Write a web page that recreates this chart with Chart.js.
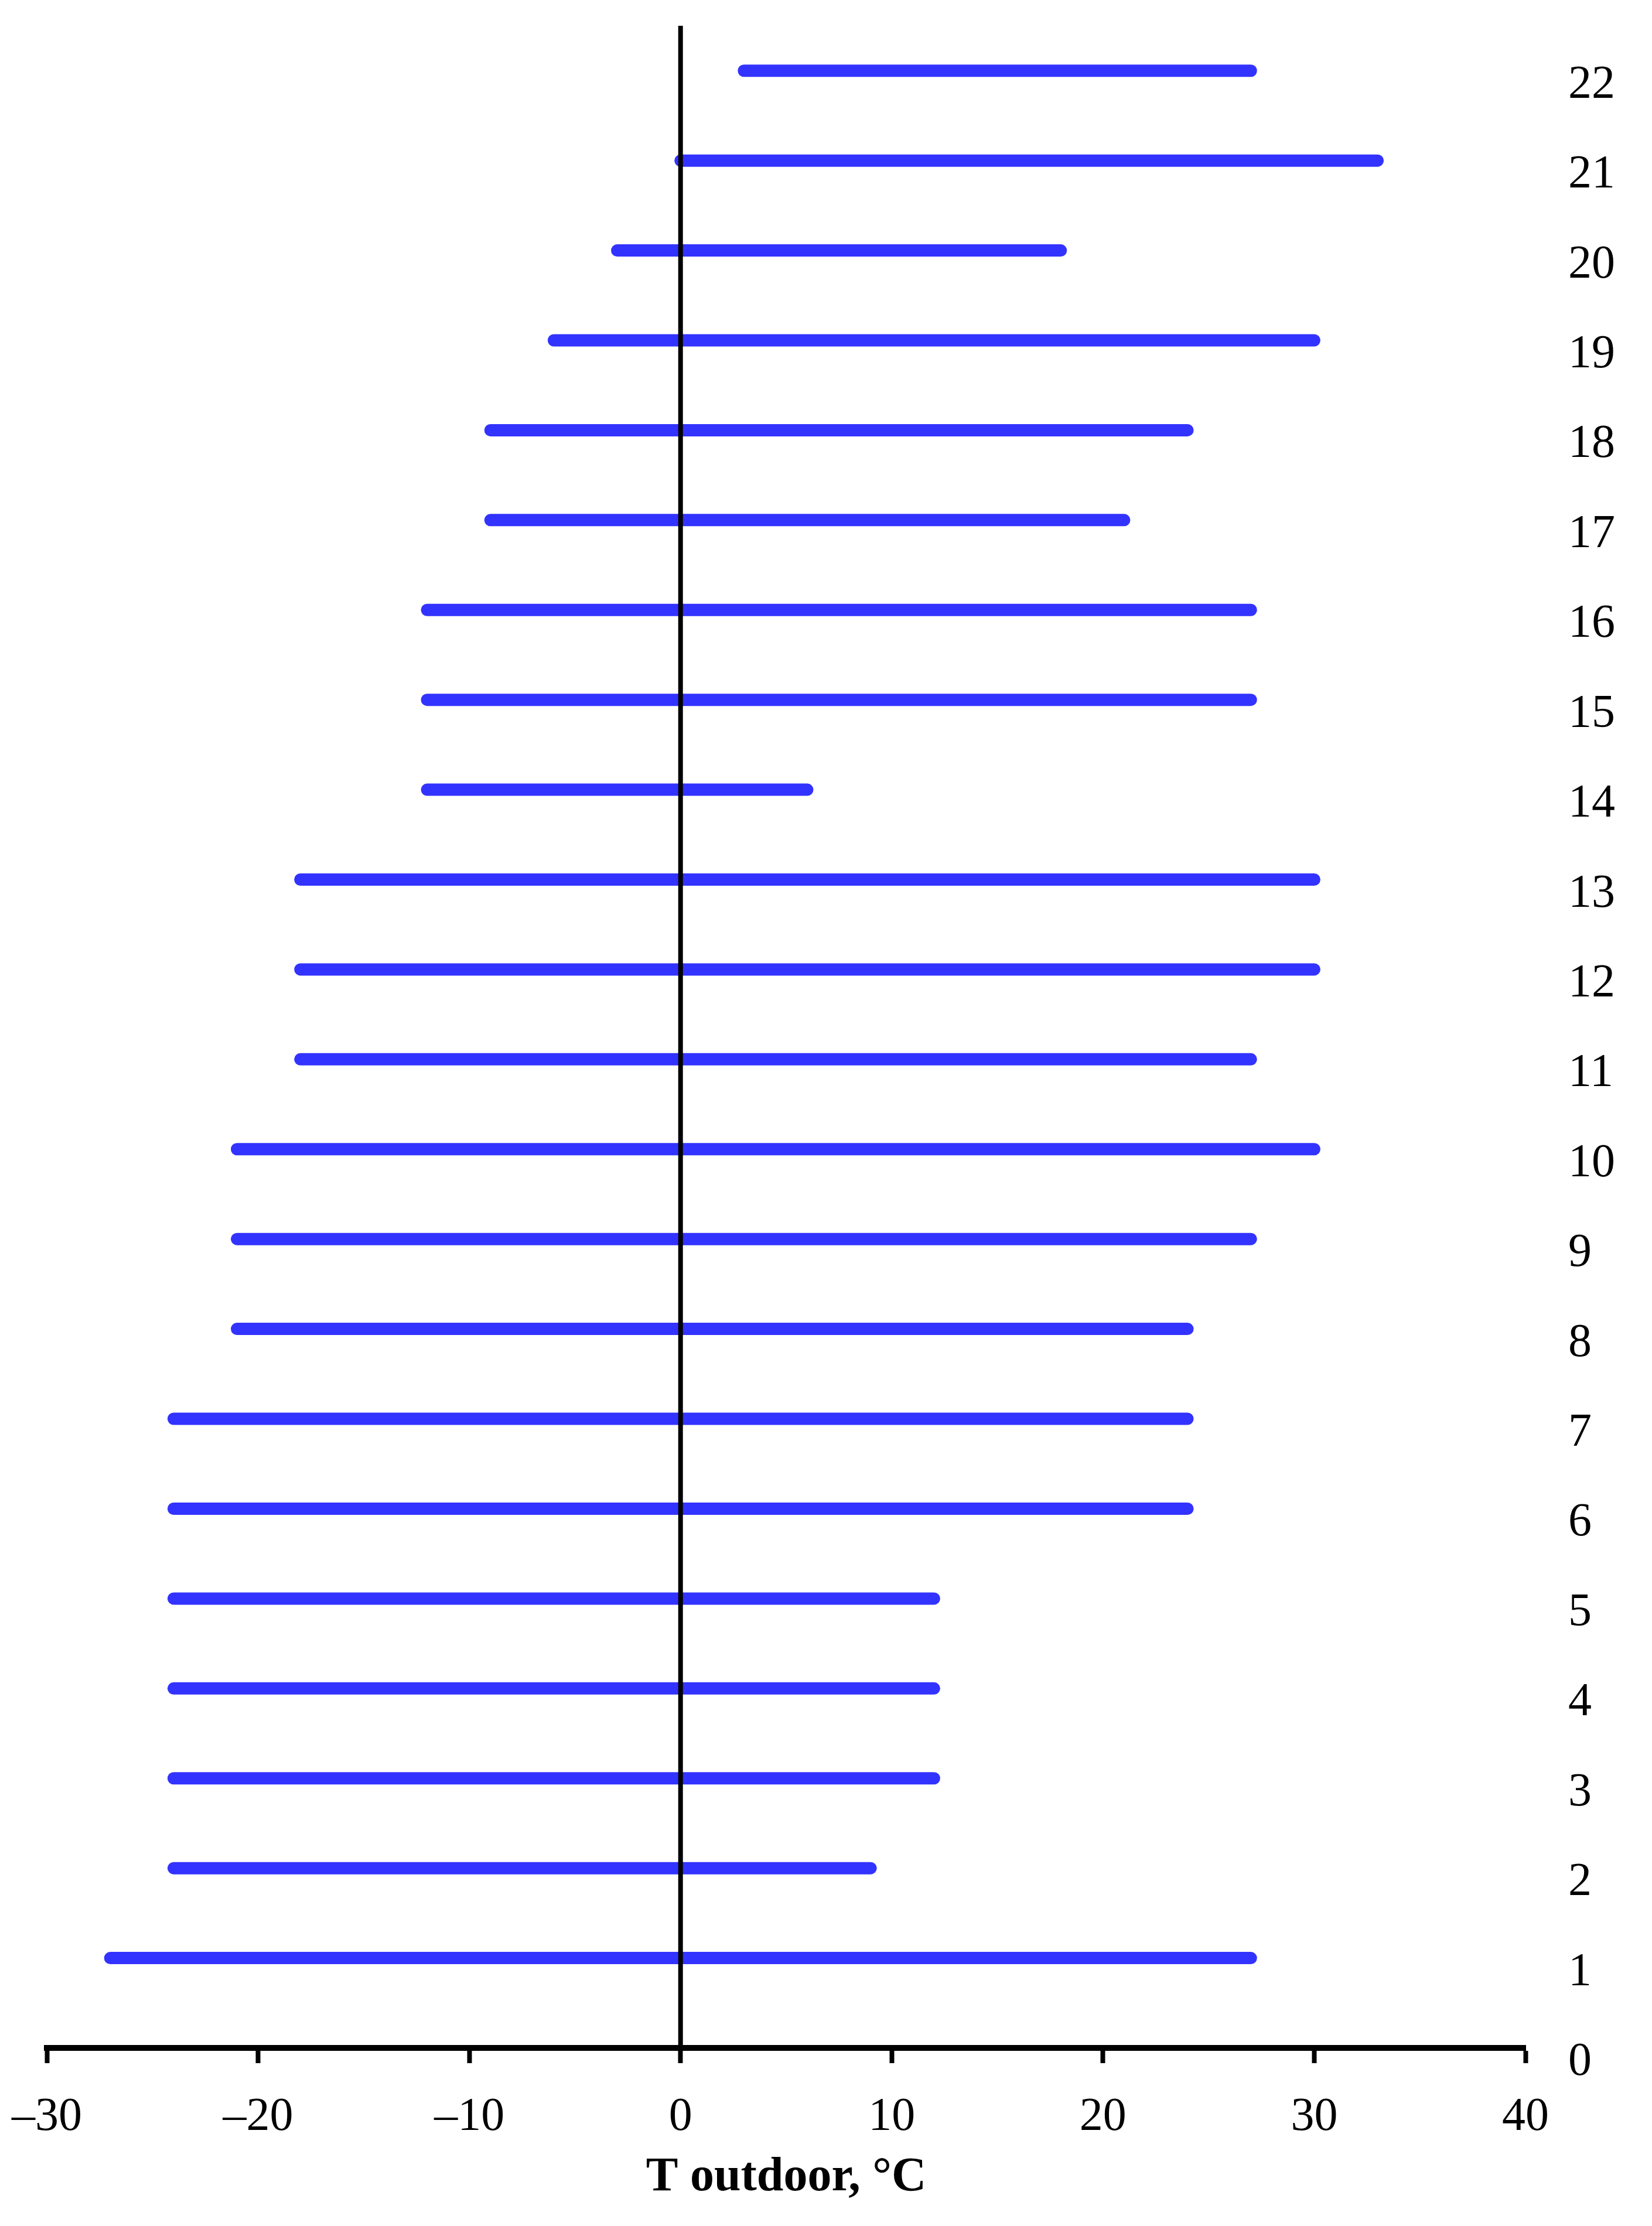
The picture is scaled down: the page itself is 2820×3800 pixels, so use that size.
<!DOCTYPE html>
<html>
<head>
<meta charset="utf-8">
<script src="https://cdn.jsdelivr.net/npm/chart.js@4.4.1/dist/chart.umd.min.js"></script>
<style>
  html, body { margin: 0; padding: 0; background: #fff; }
  #wrap { width: 2820px; height: 3800px; }
</style>
</head>
<body>
<div id="wrap"><canvas id="rangeChart" width="2820" height="3800"></canvas></div>
<script>
// categories 1..22 and the outdoor temperature range of each
const categories = [1, 2, 3, 4, 5, 6, 7, 8, 9, 10, 11, 12, 13, 14, 15, 16, 17, 18, 19, 20, 21, 22];
const lowTemps = [-27, -24, -24, -24, -24, -24, -24, -21, -21, -21, -18, -18, -18, -12, -12, -12, -9, -9, -6, -3, 0, 3];
const highTemps = [27, 9, 12, 12, 12, 24, 24, 24, 27, 30, 27, 30, 30, 6, 27, 27, 21, 24, 30, 18, 33, 27];
const xTicks = [-30, -20, -10, 0, 10, 20, 30, 40];

const barColor = '#3333ff';
const serif = "'Liberation Serif', 'Times New Roman', serif";

// zero line (drawn on top, so it comes first)
const datasets = [
  {
    data: [{ x: 0, y: 0 }, { x: 0, y: 22.5 }],
    borderColor: '#000',
    borderWidth: 8,
    pointRadius: 0,
  },
];

categories.forEach((cat, i) => {
  datasets.push({
    data: [
      { x: lowTemps[i], y: cat },
      { x: highTemps[i], y: cat },
    ],
    borderColor: barColor,
    borderWidth: 21,
    borderCapStyle: 'round',
    pointRadius: 0,
  });
});

const config = {
  type: 'line',
  data: { datasets: datasets },
  options: {
    responsive: false,
    animation: false,
    layout: {
      padding: { top: 44, left: 80, right: 0, bottom: 0 },
    },
    plugins: {
      legend: { display: false },
      tooltip: { enabled: false },
    },
    scales: {
      x: {
        type: 'linear',
        position: 'bottom',
        min: xTicks[0],
        max: xTicks[xTicks.length - 1],
        afterBuildTicks: scale => {
          scale.ticks = xTicks.map(v => ({ value: v }));
        },
        afterFit: scale => {
          scale.height = 304;
          scale.paddingLeft = 0;
          scale.paddingRight = 0;
        },
        border: { display: true, color: '#000', width: 10 },
        grid: {
          drawOnChartArea: false,
          drawTicks: true,
          tickLength: 26,
          tickWidth: 8,
          tickColor: '#000',
        },
        ticks: {
          color: '#000',
          padding: 45,
          maxRotation: 0,
          font: { family: serif, size: 80 },
          callback: v => String(v).replace('-', '\u2013'),
        },
        title: {
          display: true,
          text: 'T outdoor, \u00b0C',
          color: '#000',
          font: { family: serif, size: 82, weight: 'bold' },
          padding: { top: 0, bottom: 33 },
        },
      },
      y: {
        type: 'linear',
        position: 'right',
        min: 0,
        max: 22.5,
        afterBuildTicks: scale => {
          scale.ticks = [0].concat(categories).map(v => ({ value: v }));
        },
        afterFit: scale => {
          scale.width = 216;
          scale.paddingTop = 0;
          scale.paddingBottom = 0;
        },
        border: { display: false },
        grid: { display: false, drawTicks: false },
        ticks: {
          color: '#000',
          padding: 73,
          crossAlign: 'near',
          labelOffset: 25,
          font: { family: serif, size: 80 },
        },
      },
    },
  },
};

const rangeChart = new Chart(document.getElementById('rangeChart'), config);
</script>
</body>
</html>
